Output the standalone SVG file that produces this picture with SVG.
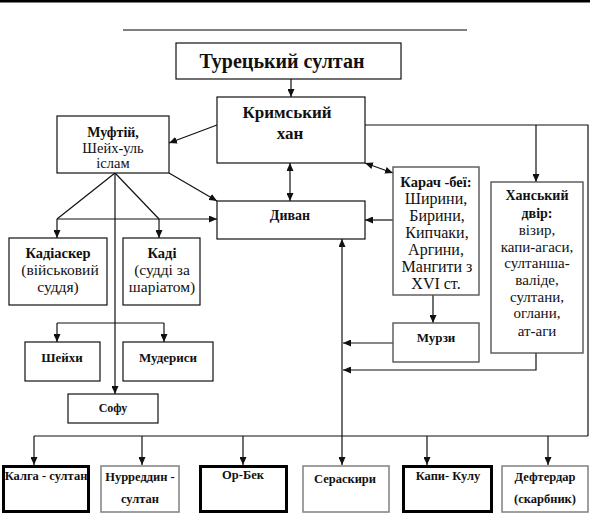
<svg xmlns="http://www.w3.org/2000/svg" width="590" height="514" viewBox="0 0 590 514">
<style>
text{text-anchor:middle;fill:#111}
.b{font-weight:bold}
.box{fill:#fff;stroke:#111;stroke-width:1.2}
.gbox{fill:#fff;stroke:#555;stroke-width:1.4}
.lbox{fill:#fff;stroke:#888;stroke-width:1.6}
.tbox{fill:#fff;stroke:#000;stroke-width:3}
.c line,.c polyline{stroke:#111;stroke-width:1.2;fill:none}
</style>
<defs>
<marker id="a" viewBox="0 0 8 7" refX="8" refY="3.5" markerWidth="8" markerHeight="7" markerUnits="userSpaceOnUse" orient="auto-start-reverse">
<path d="M0,0 L8,3.5 L0,7 z" fill="#111"/>
</marker>
</defs>
<rect width="590" height="514" fill="#fff"/>
<rect x="0" y="0" width="590" height="2.5" fill="#000"/>
<line x1="123" y1="30" x2="467" y2="30" stroke="#000" stroke-width="1"/>

<g class="c">
<line x1="291" y1="79" x2="291" y2="97" marker-end="url(#a)"/>
<line x1="217" y1="125" x2="169" y2="143" marker-end="url(#a)"/>
<line x1="290" y1="163" x2="290" y2="201" marker-start="url(#a)" marker-end="url(#a)"/>
<line x1="365" y1="163" x2="393" y2="173" marker-start="url(#a)" marker-end="url(#a)"/>
<polyline points="365,125 588,125 588,436"/>
<line x1="536" y1="125" x2="536" y2="182" marker-end="url(#a)"/>
<line x1="169" y1="173" x2="217" y2="201" marker-end="url(#a)"/>
<line x1="115" y1="173" x2="57" y2="219"/>
<line x1="115" y1="173" x2="159" y2="219"/>
<line x1="57" y1="219" x2="217" y2="219" marker-end="url(#a)"/>
<line x1="57" y1="219" x2="57" y2="238" marker-end="url(#a)"/>
<line x1="159" y1="219" x2="159" y2="238" marker-end="url(#a)"/>
<line x1="115" y1="173" x2="115" y2="394" marker-end="url(#a)"/>
<line x1="57" y1="323" x2="164" y2="323"/>
<line x1="57" y1="323" x2="57" y2="342" marker-end="url(#a)"/>
<line x1="164" y1="323" x2="164" y2="342" marker-end="url(#a)"/>
<line x1="393" y1="220" x2="365" y2="220" marker-end="url(#a)"/>
<line x1="433" y1="295" x2="433" y2="323" marker-end="url(#a)"/>
<line x1="393" y1="343" x2="343" y2="343" marker-end="url(#a)"/>
<polyline points="536,353 536,370 343,370" marker-end="url(#a)"/>
<line x1="342" y1="465" x2="342" y2="239" marker-start="url(#a)" marker-end="url(#a)"/>
<line x1="34" y1="436" x2="588" y2="436"/>
<line x1="34" y1="436" x2="34" y2="465" marker-end="url(#a)"/>
<line x1="142" y1="436" x2="142" y2="465" marker-end="url(#a)"/>
<line x1="243" y1="436" x2="243" y2="465" marker-end="url(#a)"/>
<line x1="427" y1="436" x2="427" y2="465" marker-end="url(#a)"/>
<line x1="548" y1="436" x2="548" y2="465" marker-end="url(#a)"/>
</g>

<g font-family="'Liberation Serif', 'Times New Roman', 'DejaVu Serif', serif">
<g id="tureckyi-sultan">
<rect class="box" x="176" y="43" width="225" height="36"/>
<text class="b" x="282" y="68" font-size="20">Турецький султан</text>
</g>
<g id="krymskyi-khan">
<rect class="box" x="217" y="97" width="148" height="66"/>
<text class="b" x="287" y="118" font-size="17">Кримський</text>
<text class="b" x="290" y="139" font-size="17">хан</text>
</g>
<g id="muftii">
<rect class="box" x="57" y="116" width="112" height="57"/>
<text class="b" x="113" y="137" font-size="14">Муфтій,</text>
<text x="113" y="153" font-size="14.5">Шейх-уль</text>
<text x="113" y="168" font-size="14.5">іслам</text>
</g>
<g id="dyvan">
<rect class="box" x="217" y="201" width="148" height="38"/>
<text class="b" x="290" y="220" font-size="14">Диван</text>
</g>
<g id="kadiasker">
<rect class="box" x="9" y="238" width="98" height="67"/>
<text class="b" x="58" y="258" font-size="14.5">Кадіаскер</text>
<text x="60" y="275" font-size="15.5">(військовий</text>
<text x="58" y="292" font-size="15.5">суддя)</text>
</g>
<g id="kadi">
<rect class="box" x="123" y="238" width="77" height="67"/>
<text class="b" x="162" y="258" font-size="14.5">Каді</text>
<text x="162" y="275" font-size="15.5">(судді за</text>
<text x="162" y="292" font-size="15.5">шаріатом)</text>
</g>
<g id="sheikhy">
<rect class="box" x="25" y="342" width="75" height="39"/>
<text class="b" x="62" y="362" font-size="13">Шейхи</text>
</g>
<g id="muderysy">
<rect class="box" x="123" y="342" width="90" height="39"/>
<text class="b" x="168" y="362" font-size="13">Мудериси</text>
</g>
<g id="sofu">
<rect class="box" x="68" y="394" width="90" height="29"/>
<text class="b" x="113" y="412" font-size="12">Софу</text>
</g>
<g id="karach-bei">
<rect class="gbox" x="393" y="167" width="86" height="128"/>
<text class="b" x="436" y="187" font-size="14.5">Карач -беї:</text>
<text x="436" y="204" font-size="16">Ширини,</text>
<text x="437" y="221" font-size="16">Бирини,</text>
<text x="437" y="238" font-size="16">Кипчаки,</text>
<text x="436" y="255" font-size="16">Аргини,</text>
<text x="437" y="272" font-size="16">Мангити з</text>
<text x="436" y="289" font-size="16">XVI ст.</text>
</g>
<g id="khanskyi-dvir">
<rect class="gbox" x="491" y="182" width="92" height="171"/>
<text class="b" x="537" y="200" font-size="14">Ханський</text>
<text class="b" x="537" y="218" font-size="14">двір:</text>
<text x="537" y="235" font-size="15">візир,</text>
<text x="537" y="252" font-size="15">капи-агаси,</text>
<text x="537" y="268" font-size="15">султанша-</text>
<text x="537" y="285" font-size="15">валіде,</text>
<text x="537" y="302" font-size="15">султани,</text>
<text x="537" y="318" font-size="15">оглани,</text>
<text x="537" y="336" font-size="15">ат-аги</text>
</g>
<g id="murzy">
<rect class="gbox" x="393" y="323" width="86" height="39"/>
<text class="b" x="436" y="342" font-size="13">Мурзи</text>
</g>
<g id="kalga-sultan">
<rect class="tbox" x="3.5" y="466.5" width="85" height="45"/>
<text class="b" x="46" y="480" font-size="12.5">Калга - султан</text>
</g>
<g id="nurreddin-sultan">
<rect class="lbox" x="101" y="466" width="78" height="46"/>
<text class="b" x="140" y="481" font-size="12.5">Нурреддин -</text>
<text class="b" x="140" y="503" font-size="12.5">султан</text>
</g>
<g id="or-bek">
<rect class="tbox" x="200.5" y="466.5" width="86" height="45"/>
<text class="b" x="243" y="479" font-size="12.5">Ор-Бек</text>
</g>
<g id="seraskiry">
<rect class="lbox" x="303" y="466" width="86" height="46"/>
<text class="b" x="345" y="483" font-size="12.5">Сераскири</text>
</g>
<g id="kapi-kulu">
<rect class="tbox" x="403.5" y="466.5" width="88" height="45"/>
<text class="b" x="448" y="480" font-size="12.5">Капи- Кулу</text>
</g>
<g id="defterdar">
<rect class="lbox" x="502" y="466" width="86" height="46"/>
<text class="b" x="545" y="481" font-size="12.5">Дефтердар</text>
<text class="b" x="545" y="503" font-size="12.5">(скарбник)</text>
</g>
</g>
</svg>
